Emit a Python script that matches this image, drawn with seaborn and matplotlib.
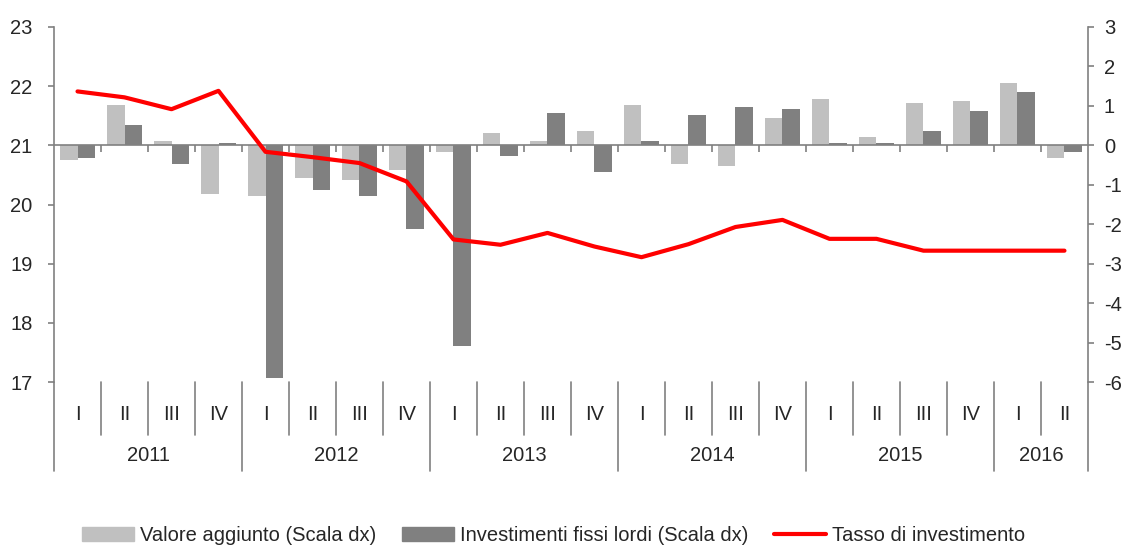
import pandas as pd
import matplotlib.pyplot as plt
import seaborn as sns
from matplotlib.patches import Patch
from matplotlib.lines import Line2D
from matplotlib.transforms import blended_transform_factory

# Dati trimestrali 2011 I - 2016 II
anni = ['2011', '2012', '2013', '2014', '2015', '2016']
trimestri_per_anno = [4, 4, 4, 4, 4, 2]
trimestri = ['I', 'II', 'III', 'IV'] * 5 + ['I', 'II']

valore_aggiunto = [-0.37, 1.02, 0.11, -1.24, -1.29, -0.83, -0.89, -0.63,
                   -0.16, 0.31, 0.12, 0.36, 1.02, -0.48, -0.53, 0.68,
                   1.17, 0.22, 1.07, 1.12, 1.58, -0.32]
investimenti = [-0.31, 0.52, -0.48, 0.07, -5.90, -1.13, -1.29, -2.11,
                -5.09, -0.27, 0.83, -0.68, 0.12, 0.77, 0.97, 0.92,
                0.07, 0.06, 0.37, 0.88, 1.34, -0.17]
tasso = [21.91, 21.81, 21.61, 21.92, 20.89, 20.80, 20.70, 20.39,
         19.41, 19.32, 19.52, 19.29, 19.11, 19.33, 19.62, 19.74,
         19.42, 19.42, 19.22, 19.22, 19.22, 19.22]

etichette = [f'{a} {q}' for a, n in zip(anni, trimestri_per_anno)
             for q in ['I', 'II', 'III', 'IV'][:n]]

df = pd.DataFrame({'periodo': etichette * 2,
                   'valore': valore_aggiunto + investimenti,
                   'serie': ['Valore aggiunto (Scala dx)'] * 22 +
                            ['Investimenti fissi lordi (Scala dx)'] * 22})

sns.set_style('white')
plt.rcParams['font.family'] = ['Liberation Sans', 'DejaVu Sans']
plt.rcParams['axes.unicode_minus'] = False
fs = 14.5
grigio = '#808080'
colori = {'Valore aggiunto (Scala dx)': '#c0c0c0',
          'Investimenti fissi lordi (Scala dx)': '#808080'}

fig, ax = plt.subplots(figsize=(11.3, 5.49), dpi=100)
fig.subplots_adjust(left=0.0478, right=0.9628, top=0.951, bottom=0.304)
ax2 = ax.twinx()
ax.set_zorder(ax2.get_zorder() + 1)
ax.patch.set_visible(False)

# Barre (scala destra)
sns.barplot(data=df, x='periodo', y='valore', hue='serie', palette=colori,
            width=0.75, gap=0, errorbar=None, ax=ax2, legend=False,
            linewidth=0)
ax2.set_ylim(-6, 3)
ax2.set_yticks(range(-6, 4))
ax2.axhline(0, color=grigio, lw=1.2, zorder=3)
bordi = [i + 0.5 for i in range(len(etichette) - 1)]
ax2.vlines(bordi, -0.18, 0, color=grigio, lw=1.2, zorder=3)

# Linea (scala sinistra)
sns.lineplot(x=list(range(len(tasso))), y=tasso, color='#ff0000', lw=3,
             ax=ax)
ax.set_ylim(17, 23)
ax.set_yticks(range(17, 24))
ax.set_xlim(-0.5, len(etichette) - 0.5)
ax2.set_xlim(-0.5, len(etichette) - 0.5)

for a in (ax, ax2):
    a.set_xticks([])
    a.set_xlabel('')
    a.set_ylabel('')
    for s in ('top', 'bottom'):
        a.spines[s].set_visible(False)
    for s in ('left', 'right'):
        a.spines[s].set_color(grigio)
        a.spines[s].set_linewidth(1.2)
    a.tick_params(axis='y', length=4.5, width=1.2, color=grigio,
                  labelsize=fs)
ax.spines['right'].set_visible(False)
ax2.spines['left'].set_visible(False)
ax.tick_params(axis='y', left=True, right=False, pad=11)
ax2.tick_params(axis='y', left=False, right=True, pad=7)

# Asse categorie: trimestri e anni
tr = blended_transform_factory(ax.transData, ax.transAxes)
for i, q in enumerate(trimestri):
    ax.text(i, -0.09, q, transform=tr, ha='center', va='center',
            fontsize=fs)
inizio = 0
confini_anni = [-0.5]
for a, n in zip(anni, trimestri_per_anno):
    ax.text(inizio + (n - 1) / 2, -0.208, a, transform=tr, ha='center',
            va='center', fontsize=fs)
    inizio += n
    confini_anni.append(inizio - 0.5)
for b in bordi:
    if b not in confini_anni:
        ax.plot([b, b], [0, -0.15], transform=tr, color=grigio, lw=1.2,
                clip_on=False)
for b in confini_anni:
    ax.plot([b, b], [0, -0.25], transform=tr, color=grigio, lw=1.2,
            clip_on=False)

handles = [Patch(color=colori['Valore aggiunto (Scala dx)']),
           Patch(color=colori['Investimenti fissi lordi (Scala dx)']),
           Line2D([], [], color='#ff0000', lw=3)]
fig.legend(handles, ['Valore aggiunto (Scala dx)',
                     'Investimenti fissi lordi (Scala dx)',
                     'Tasso di investimento'],
           loc='lower center', bbox_to_anchor=(0.49, -0.025), ncol=3,
           frameon=False, fontsize=fs, handlelength=2.6, handleheight=0.7,
           handletextpad=0.3, columnspacing=1.25)

fig.savefig('out.png', dpi=100)
